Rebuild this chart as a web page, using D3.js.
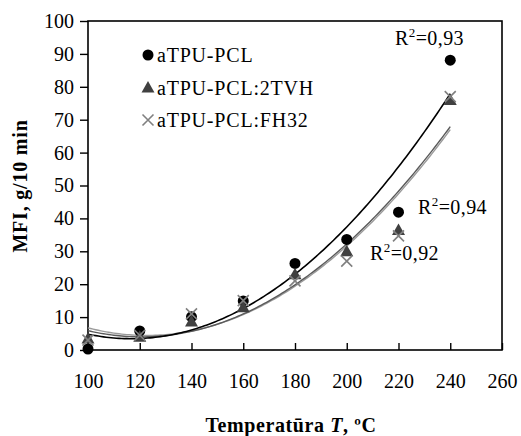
<!DOCTYPE html>
<html>
<head>
<meta charset="utf-8">
<script src="https://cdn.jsdelivr.net/npm/d3@7"></script>
<style>
  html, body { margin: 0; padding: 0; background: #fff; }
  svg text { font-family: "Liberation Serif", "Times New Roman", serif; fill: #000; }
</style>
</head>
<body>
<svg id="chart" width="521" height="436"></svg>
<script>
// Melt flow index measured at each test temperature
const temperatures = [100, 120, 140, 160, 180, 200, 220, 240];
const mfiPCL  = [0.3, 5.8, 10.1, 14.9, 26.3, 33.6, 41.9, 88.1];
const mfi2TVH = [3.5, 4.0, 8.7, 13.0, 23.0, 30.0, 36.5, 76.0];
const mfiFH32 = [3.0, 4.5, 11.0, 15.0, 21.0, 27.0, 34.7, 77.0];
const seriesNames = ["aTPU-PCL", "aTPU-PCL:2TVH", "aTPU-PCL:FH32"];
const xTicks = [100, 120, 140, 160, 180, 200, 220, 240, 260];
const yTicks = [0, 10, 20, 30, 40, 50, 60, 70, 80, 90, 100];
const r2Labels = ["0,93", "0,94", "0,92"];

const svg = d3.select("#chart");
const margin = { left: 88, top: 21, right: 19, bottom: 86 };
const W = 521, H = 436;
const x = d3.scaleLinear().domain([100, 260]).range([margin.left, W - margin.right]);
const y = d3.scaleLinear().domain([0, 100]).range([H - margin.bottom, margin.top]);

// Second-order polynomial least-squares trend line
function quadFit(xs, ys) {
  const n = xs.length;
  let s = [0, 0, 0, 0, 0], t = [0, 0, 0];
  for (let i = 0; i < n; i++) {
    let p = 1;
    for (let k = 0; k < 5; k++) { s[k] += p; if (k < 3) t[k] += p * ys[i]; p *= xs[i]; }
  }
  const M = [[s[0], s[1], s[2], t[0]], [s[1], s[2], s[3], t[1]], [s[2], s[3], s[4], t[2]]];
  for (let c = 0; c < 3; c++) {
    for (let r = c + 1; r < 3; r++) {
      const f = M[r][c] / M[c][c];
      for (let k = c; k < 4; k++) M[r][k] -= f * M[c][k];
    }
  }
  const coef = [0, 0, 0];
  for (let r = 2; r >= 0; r--) {
    let v = M[r][3];
    for (let k = r + 1; k < 3; k++) v -= M[r][k] * coef[k];
    coef[r] = v / M[r][r];
  }
  return xv => coef[0] + coef[1] * xv + coef[2] * xv * xv;
}

const series = [
  { name: seriesNames[0], values: mfiPCL,  line: "#000000", lineW: 1.6, marker: "circle" },
  { name: seriesNames[1], values: mfi2TVH, line: "#5a5a5a", lineW: 1.4, marker: "triangle" },
  { name: seriesNames[2], values: mfiFH32, line: "#9a9a9a", lineW: 1.4, marker: "cross" }
];

// Plot frame
svg.append("rect")
  .attr("x", x(100)).attr("y", y(100))
  .attr("width", x(260) - x(100)).attr("height", y(0) - y(100))
  .attr("fill", "none").attr("stroke", "#000").attr("stroke-width", 1.6);

// Y axis: ticks outside, labels on the left
const yAxis = d3.axisLeft(y).tickValues(yTicks).tickSize(8).tickPadding(6).tickFormat(d3.format("d"));
const gy = svg.append("g").attr("transform", `translate(${x(100)},0)`).call(yAxis);
gy.select(".domain").remove();
gy.selectAll(".tick line").attr("stroke", "#000").attr("stroke-width", 1.4);
gy.selectAll(".tick text").attr("font-size", 20).attr("font-family", "Liberation Serif").attr("fill", "#000");

// X axis: ticks inside the frame, labels below
const xAxis = d3.axisBottom(x).tickValues(xTicks).tickSize(-7).tickPadding(24).tickFormat(d3.format("d"));
const gx = svg.append("g").attr("transform", `translate(0,${y(0)})`).call(xAxis);
gx.select(".domain").remove();
gx.selectAll(".tick line").attr("stroke", "#000").attr("stroke-width", 1.4);
gx.selectAll(".tick text").attr("font-size", 20).attr("font-family", "Liberation Serif").attr("fill", "#000");

// Trend lines
const line = d3.line().x(d => x(d[0])).y(d => y(d[1]));
series.slice().reverse().forEach(s => {
  const f = quadFit(temperatures, s.values);
  const pts = d3.range(100, 240.01, 1).map(t => [t, f(t)]);
  svg.append("path").datum(pts).attr("d", line)
    .attr("fill", "none").attr("stroke", s.line).attr("stroke-width", s.lineW);
});

// Markers
function drawMarker(g, type, cx, cy) {
  if (type === "circle") {
    g.append("circle").attr("cx", cx).attr("cy", cy).attr("r", 5.5).attr("fill", "#000");
  } else if (type === "triangle") {
    g.append("path").attr("d", `M${cx},${cy - 6.5}L${cx + 6.5},${cy + 5}L${cx - 6.5},${cy + 5}Z`).attr("fill", "#404040");
  } else {
    g.append("path").attr("d", `M${cx - 5.5},${cy - 5.5}L${cx + 5.5},${cy + 5.5}M${cx - 5.5},${cy + 5.5}L${cx + 5.5},${cy - 5.5}`)
      .attr("stroke", "#808080").attr("stroke-width", 1.6).attr("fill", "none");
  }
}
const gm = svg.append("g");
series.forEach(s => {
  s.values.forEach((v, i) => drawMarker(gm, s.marker, x(temperatures[i]), y(v)));
});

// Legend
const legend = svg.append("g");
series.forEach((s, i) => {
  const ly = 55 + i * 32.5;
  drawMarker(legend, s.marker, 148, ly);
  legend.append("text").attr("x", 157).attr("y", ly).attr("dy", "0.35em")
    .attr("font-size", 20).attr("letter-spacing", 0.8).text(s.name);
});

// Coefficient of determination labels
function r2(xp, yp, val) {
  const t = svg.append("text").attr("x", xp).attr("y", yp).attr("font-size", 20).attr("letter-spacing", 0.4);
  t.append("tspan").text("R");
  t.append("tspan").attr("font-size", 13).attr("dy", -8).text("2");
  t.append("tspan").attr("dy", 8).text("=" + val);
}
r2(395, 45, r2Labels[0]);
r2(418, 214, r2Labels[1]);
r2(370, 260, r2Labels[2]);

// Axis titles
const xt = svg.append("text").attr("x", 291).attr("y", 432).attr("text-anchor", "middle")
  .attr("font-size", 20).attr("font-weight", "bold").attr("letter-spacing", 0.6);
xt.append("tspan").text("Temperatūra ");
xt.append("tspan").attr("font-style", "italic").text("T");
xt.append("tspan").text(", ºC");

svg.append("text").attr("transform", "translate(27,186) rotate(-90)").attr("text-anchor", "middle")
  .attr("font-size", 20).attr("font-weight", "bold").attr("letter-spacing", 0.8).text("MFI, g/10 min");
</script>
</body>
</html>
